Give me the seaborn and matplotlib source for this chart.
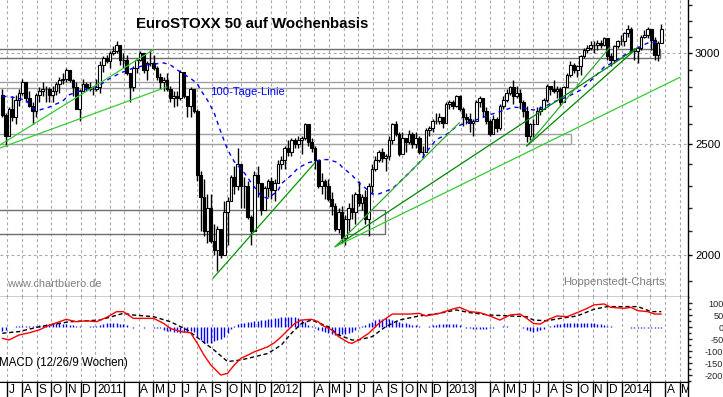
import numpy as np
import pandas as pd
import matplotlib
matplotlib.use('Agg')
import matplotlib.pyplot as plt
from matplotlib.patches import Rectangle
from matplotlib.ticker import FixedLocator, NullFormatter, FixedFormatter
import seaborn as sns

sns.set_style('white')
plt.rcParams['font.family'] = ['Liberation Sans', 'DejaVu Sans']
plt.rcParams['axes.unicode_minus'] = False

# Wochenkerzen ab 21.06.2010
start = pd.Timestamp('2010-06-21')
first_open = 2760
closes = [
    2650, 2540, 2680, 2640, 2730, 2770, 2830, 2740, 2700, 2670,
    2760, 2780, 2790, 2790, 2760, 2780, 2820, 2840, 2850, 2900,
    2840, 2800, 2680, 2780, 2820, 2800, 2790, 2790, 2800, 2930,
    2970, 2950, 3000, 3010, 3050, 2960, 2960, 2880, 2800, 2910,
    2960, 3000, 2900, 2940, 2940, 2910, 2860, 2830, 2840, 2790,
    2740, 2750, 2740, 2890, 2750, 2700, 2790, 2670, 2350, 2250,
    2100, 2200, 2060, 2020, 2110, 2000, 2180, 2230, 2340, 2300,
    2400, 2300, 2300, 2160, 2100, 2350, 2310, 2190, 2290, 2320,
    2280, 2310, 2400, 2420, 2480, 2460, 2520, 2500, 2520, 2530,
    2600, 2510, 2480, 2420, 2300, 2320, 2300, 2240, 2210, 2110,
    2180, 2070, 2150, 2200, 2180, 2260, 2220, 2250, 2150, 2300,
    2380, 2420, 2460, 2430, 2440, 2520, 2600, 2550, 2450, 2530,
    2510, 2550, 2500, 2530, 2460, 2460, 2570, 2580, 2620, 2620,
    2640, 2610, 2710, 2720, 2700, 2750, 2680, 2640, 2630, 2610,
    2620, 2720, 2740, 2670, 2620, 2550, 2630, 2580, 2700, 2730,
    2770, 2800, 2750, 2770, 2720, 2670, 2540, 2600, 2600, 2670,
    2680, 2730, 2810, 2790, 2780, 2790, 2720, 2800, 2870, 2930,
    2900, 2920, 2980, 3020, 3030, 3050, 3050, 3060, 3050, 3090,
    2980, 2960, 3040, 3070, 3070, 3120, 3150, 3010, 3010, 3030,
    3100, 3110, 3150, 3080, 2990, 3060, 3150,
]
highs = [
    2790, 2660, 2690, 2750, 2760, 2790, 2850, 2830, 2780, 2720,
    2770, 2800, 2830, 2810, 2800, 2810, 2830, 2860, 2880, 2910,
    2900, 2850, 2830, 2790, 2850, 2830, 2830, 2810, 2850, 2950,
    2980, 2990, 3010, 3040, 3070, 3040, 3000, 2990, 2870, 2920,
    2970, 3010, 2990, 2950, 3020, 2990, 2920, 2880, 2860, 2880,
    2810, 2780, 2780, 2900, 2880, 2740, 2800, 2790, 2680, 2370,
    2330, 2260, 2260, 2130, 2120, 2110, 2230, 2250, 2350, 2390,
    2480, 2390, 2340, 2320, 2170, 2370, 2390, 2300, 2300, 2330,
    2340, 2330, 2420, 2440, 2490, 2520, 2530, 2530, 2540, 2540,
    2610, 2600, 2530, 2490, 2420, 2360, 2330, 2330, 2270, 2220,
    2200, 2210, 2170, 2220, 2260, 2270, 2320, 2260, 2280, 2310,
    2400, 2440, 2470, 2480, 2450, 2540, 2610, 2620, 2560, 2560,
    2530, 2570, 2560, 2560, 2540, 2490, 2580, 2590, 2630, 2660,
    2660, 2640, 2720, 2730, 2730, 2760, 2760, 2690, 2660, 2660,
    2630, 2730, 2750, 2740, 2690, 2630, 2650, 2640, 2710, 2750,
    2790, 2810, 2840, 2810, 2790, 2730, 2700, 2610, 2630, 2690,
    2700, 2740, 2820, 2810, 2840, 2810, 2800, 2810, 2880, 2950,
    2940, 2930, 2990, 3030, 3050, 3070, 3070, 3080, 3080, 3100,
    3080, 3000, 3050, 3080, 3110, 3130, 3170, 3160, 3030, 3040,
    3110, 3140, 3160, 3150, 3100, 3070, 3180,
]
lows = [
    2640, 2490, 2540, 2620, 2600, 2700, 2760, 2720, 2690, 2600,
    2640, 2720, 2750, 2720, 2720, 2720, 2760, 2770, 2820, 2830,
    2830, 2750, 2680, 2620, 2780, 2780, 2780, 2760, 2780, 2770,
    2890, 2940, 2910, 2990, 3000, 2930, 2910, 2870, 2720, 2780,
    2880, 2950, 2880, 2840, 2920, 2900, 2840, 2790, 2780, 2780,
    2720, 2690, 2700, 2730, 2740, 2640, 2640, 2660, 2320, 2100,
    2080, 2050, 2050, 2000, 1940, 1990, 2040, 2040, 2230, 2260,
    2280, 2200, 2200, 2150, 2040, 2120, 2250, 2170, 2190, 2250,
    2240, 2230, 2310, 2380, 2380, 2440, 2440, 2480, 2480, 2450,
    2520, 2490, 2460, 2380, 2290, 2260, 2240, 2230, 2170, 2100,
    2090, 2050, 2040, 2100, 2150, 2130, 2210, 2190, 2130, 2080,
    2260, 2370, 2410, 2410, 2370, 2420, 2500, 2540, 2440, 2460,
    2460, 2500, 2480, 2480, 2450, 2430, 2460, 2540, 2560, 2600,
    2600, 2580, 2620, 2680, 2680, 2690, 2670, 2590, 2600, 2560,
    2540, 2620, 2690, 2640, 2600, 2540, 2550, 2560, 2570, 2680,
    2720, 2760, 2710, 2740, 2680, 2640, 2510, 2520, 2530, 2600,
    2650, 2680, 2720, 2760, 2770, 2740, 2700, 2720, 2800, 2860,
    2880, 2860, 2870, 2970, 3000, 3020, 3000, 3020, 3030, 3040,
    2960, 2920, 2940, 3030, 3050, 3040, 3100, 3000, 2960, 2940,
    3020, 3090, 3090, 3020, 2960, 2950, 3060,
]

# 100-Tage-Linie (Wochenindex, Wert)
ma_week = [0, 3, 7, 9, 11, 14, 18, 20, 24, 29, 32, 35, 39, 43, 48, 50, 53, 56, 58, 59,
           61, 63, 65, 67, 69, 72, 74, 77, 79, 82, 83, 86, 88, 91, 95, 97, 100, 101, 104, 106,
           109, 110, 112, 116, 118, 121, 124, 126, 129, 132, 135, 138, 141, 145, 148, 152, 155, 158, 161, 164,
           168, 172, 176, 179, 182, 186, 189, 192, 195]
ma_val = [2752, 2746, 2730, 2687, 2676, 2692, 2725, 2760, 2785, 2813, 2851, 2881, 2911, 2929, 2941, 2929, 2887, 2851, 2822, 2785,
          2730, 2662, 2561, 2472, 2413, 2359, 2314, 2252, 2242, 2276, 2309, 2349, 2383, 2408, 2423, 2423, 2408, 2388, 2349, 2314,
          2276, 2262, 2262, 2286, 2314, 2359, 2408, 2457, 2521, 2547, 2588, 2609, 2624, 2651, 2667, 2692, 2687, 2676, 2692, 2720,
          2747, 2785, 2856, 2917, 2947, 3000, 3030, 3061, 3067]

# MACD (12/26/9)
macd_week = [0, 2, 5, 8, 11, 14, 17, 19, 22, 25, 28, 31, 34, 36, 39, 42, 45, 48, 50, 53,
             56, 58, 60, 62, 65, 67, 69, 71, 73, 75, 77, 79, 81, 83, 85, 87, 89, 92, 94, 95,
             98, 100, 103, 104, 106, 109, 112, 116, 121, 124, 126, 130, 134, 136, 139, 142, 145, 148, 151, 154,
             156, 158, 160, 162, 165, 168, 171, 174, 176, 179, 181, 185, 187, 189, 192, 194, 196]
macd_val = [-47, -54, -33, -24, -12, 8, 22, 32, 22, 26, 22, 40, 64, 64, 36, 36, 36, 15, -6, -19,
            -24, -68, -117, -158, -200, -193, -158, -130, -117, -103, -93, -82, -65, -40, -12, 15, 29, 32, 22, 8,
            -12, -40, -65, -68, -54, -26, 15, 54, 54, 57, 46, 57, 75, 82, 64, 60, 46, 29, 50, 54,
            36, 15, 12, 29, 46, 43, 60, 78, 92, 96, 82, 78, 82, 68, 64, 54, 54]
sig_week = [0, 5, 11, 20, 29, 36, 39, 45, 50, 55, 59, 63, 67, 71, 75, 79, 83, 86, 89, 92,
            97, 100, 104, 106, 110, 114, 118, 124, 130, 135, 139, 145, 151, 156, 158, 162, 166, 171, 176, 180,
            185, 189, 193, 196]
sig_val = [-26, -19, 1, 22, 29, 57, 50, 43, 22, -12, -54, -96, -144, -137, -124, -110, -75, -26, 15, 29,
           1, -33, -54, -54, -40, 1, 29, 46, 57, 71, 60, 50, 46, 43, 29, 26, 36, 46, 74, 85,
           85, 85, 64, 64]
hist_val = [
    -15, -12, 0, 2, 3, 4, 5, 5, 4, 5, 6,
    8, 10, 12, 14, 15, 16, 15, 14, 12, 10, 8,
    4, 3, 2, 2, 3, 3,
    6, 10, 13, 15, 16, 16, 15, 14, 12, 8,
    -2, -3, -2, -2, -3, -2, -2, -4, -5, -6,
    -12, -15, -18, -20, -22, -24, -22, -20, -18, -22,
    -40, -55, -65, -67, -65, -60, -55, -50, -40, -25,
    -10, 5, 12,
    15, 18, 20, 22, 25, 26, 28, 30, 32, 34, 36, 38, 40, 42, 43, 42, 40, 36, 30,
    20, 10, 3,
    -5, -12, -18, -22, -26, -30, -33, -33, -30, -28, -25, -20, -14, -6,
    5, 10, 16, 22, 28, 32, 35, 36, 34, 30,
    26, 22, 18, 15, 12, 10, 8, 5, 2, 2, 3,
    8, 10, 12, 13, 14, 14, 13, 12, 10,
    -2, -4, -6, -8, -9, -10, -9, -8, -6, -4, -2,
    2, 3, 3, 2, 2, 1, -2, -5,
    -12, -18, -20, -18, -14, -8, 2, 5, 8,
    12, 14, 15, 16, 16, 15, 16, 17, 18, 18, 17, 16, 14, 12, 10,
    5, 3, 2, 2, 1, -1, -2,
    -3, -4, -4, -5, -5, -4, -4, -3, -3, -4,
]

# Unterstuetzungs-/Widerstandszonen: (Ende Woche, unten, oben, Farbe)
zone_end = [195.6, 171.0, 169.2, 113.8]
zone_low = [2970, 2794, 2500, 2087]
zone_high = [3024, 2831, 2550, 2190]
zone_color = ['#6e6e6e', '#a0a0a0', '#a0a0a0', '#6e6e6e']

# Trendlinien: (w0, p0, w1, p1, Farbe)
trend_w0 = [-0.7, -0.7, 62.7, 99.0, 99.0, 99.0, 156.0, 156.0]
trend_p0 = [2495, 2480, 1911, 2035, 2035, 2035, 2490, 2490]
trend_w1 = [44.8, 49.0, 93.0, 136.0, 188.8, 201.6, 180.8, 188.8]
trend_p1 = [3018, 2803, 2408, 2610, 3030, 2858, 3036, 3030]
trend_col = ['#33cc33', '#33cc33', '#009900', '#33aa33', '#008800', '#33cc33', '#33aa33', '#008800']

n = len(closes)
assert len(highs) == n and len(lows) == n and len(hist_val) == n
opens = [first_open] + closes[:-1]
idx = np.arange(n)


def wk(d):
    return (pd.Timestamp(d) - start).days / 7.0


W, H = 723, 397
fig = plt.figure(figsize=(W / 100, H / 100), dpi=100)
ax = fig.add_axes([0, 1 - 297 / H, 688 / W, 297 / H])
ax2 = fig.add_axes([0, 15 / H, 688 / W, 85 / H])
ax3 = fig.add_axes([0, 0, 688 / W, 15 / H])
xlim = (-2.3 / 3.362, (688 - 2.3) / 3.362)
for a in (ax, ax2, ax3):
    a.set_xlim(*xlim)
    a.set_facecolor('white')
    for s in ('left', 'top'):
        a.spines[s].set_visible(False)
    a.spines['right'].set_color('black')
    a.spines['bottom'].set_color('black')
    a.spines['right'].set_linewidth(1)
    a.spines['bottom'].set_linewidth(1)
    a.set_xticks([])

months = pd.date_range('2010-07-01', '2014-05-01', freq='MS')
mpos = [wk(m) for m in months]
grid_kw = dict(color='#a8a8a8', lw=0.8, ls=(0, (2.5, 2.5)), zorder=0)
for p in mpos:
    ax.axvline(p, **grid_kw)
    ax2.axvline(p, **grid_kw)

# Hauptchart
ax.set_yscale('log')
ax.set_ylim(1840, 3336)
for lvl in (2000, 2500, 3000):
    ax.axhline(lvl, **grid_kw)

for e, lo, hi, c in zip(zone_end, zone_low, zone_high, zone_color):
    ax.add_patch(Rectangle((-5, lo), e + 5, hi - lo, fill=False, edgecolor=c, lw=1.0, zorder=1))

top = np.maximum(opens, closes)
bot = np.minimum(opens, closes)
ax.vlines(idx, np.minimum(lows, bot), np.maximum(highs, top), color='black', lw=1.0, zorder=3)
body_col = ['white' if c >= o else 'black' for o, c in zip(opens, closes)]
ax.bar(idx, top - bot, bottom=bot, width=0.8, color=body_col, edgecolor='black', linewidth=0.8, zorder=3)

sns.lineplot(x=ma_week, y=ma_val, ax=ax, color='#0000ff', linewidth=1.0, linestyle=(0, (3, 3)), zorder=4)

for w0, p0, w1, p1, c in zip(trend_w0, trend_p0, trend_w1, trend_p1, trend_col):
    sns.lineplot(x=[w0, w1], y=[p0, p1], ax=ax, color=c, linewidth=0.9, zorder=5)

ax.yaxis.tick_right()
ax.yaxis.set_major_locator(FixedLocator([2000, 2500, 3000]))
ax.yaxis.set_major_formatter(FixedFormatter(['2000', '2500', '3000']))
ax.yaxis.set_minor_locator(FixedLocator([v for v in range(1900, 3400, 100) if v % 500]))
ax.yaxis.set_minor_formatter(NullFormatter())
ax.tick_params(axis='y', which='major', length=3, width=1, pad=2, labelsize=8.2, colors='black')
ax.tick_params(axis='y', which='minor', length=3, width=1)
ax.set_ylabel('')

# MACD
ax2.set_ylim(-229, 125)
ax2.vlines(idx, 0, hist_val, color='#0000ff', lw=1.0, zorder=2)
sns.lineplot(x=macd_week, y=macd_val, ax=ax2, color='#ff0000', linewidth=1.0, zorder=4)
sns.lineplot(x=sig_week, y=sig_val, ax=ax2, color='black', linewidth=1.0, linestyle=(0, (3, 2)), zorder=3)
ax2.yaxis.tick_right()
ax2.set_yticks([100, 50, 0, -50, -100, -150, -200])
ax2.set_yticklabels(['100', '50', '0', '-50', '-100', '-150', '-200'])
ax2.yaxis.set_minor_locator(FixedLocator(list(range(-225, 125, 25))))
ax2.tick_params(axis='y', which='major', length=3, width=1, pad=22.5, labelsize=6.6)
ax2.tick_params(axis='y', which='minor', length=2, width=1)
for lab in ax2.get_yticklabels():
    lab.set_horizontalalignment('right')
ax2.set_ylabel('')

# Monatsleiste
ax3.set_ylim(0, 1)
ax3.set_yticks([])
ax3.spines['bottom'].set_visible(False)
ax3.spines['top'].set_visible(True)
ax3.spines['top'].set_color('black')
for m, p in zip(months, mpos):
    if m.month == 2:
        continue
    ax3.axvline(p, color='black', lw=1.0)
    if m.month == 1:
        lab = str(m.year)
    elif m.month == 3:
        lab = ''
    else:
        lab = 'JFMAMJJASOND'[m.month - 1]
    ax3.text(p + 0.5, 0.45, lab, fontsize=8.6, ha='left', va='center', color='black', clip_on=True)

# Texte
fig.text(252 / W, 1 - 24 / H, 'EuroSTOXX 50 auf Wochenbasis', fontsize=10.8, fontweight='bold',
         ha='center', va='center', color='black')
fig.text(210 / W, 1 - 92 / H, '100-Tage-Linie', fontsize=8.1, color='#0000ff', ha='left', va='center')
fig.text(7 / W, 1 - 284 / H, 'www.chartbuero.de', fontsize=7.9, color='#808080', ha='left', va='center')
fig.text(563 / W, 1 - 282 / H, 'Hoppenstedt-Charts', fontsize=8.2, color='#808080', ha='left', va='center')
fig.text(-1 / W, 1 - 363 / H, 'MACD (12/26/9 Wochen)', fontsize=8.3, color='black', ha='left', va='center')

fig.savefig('out.png', dpi=100, facecolor='white')
